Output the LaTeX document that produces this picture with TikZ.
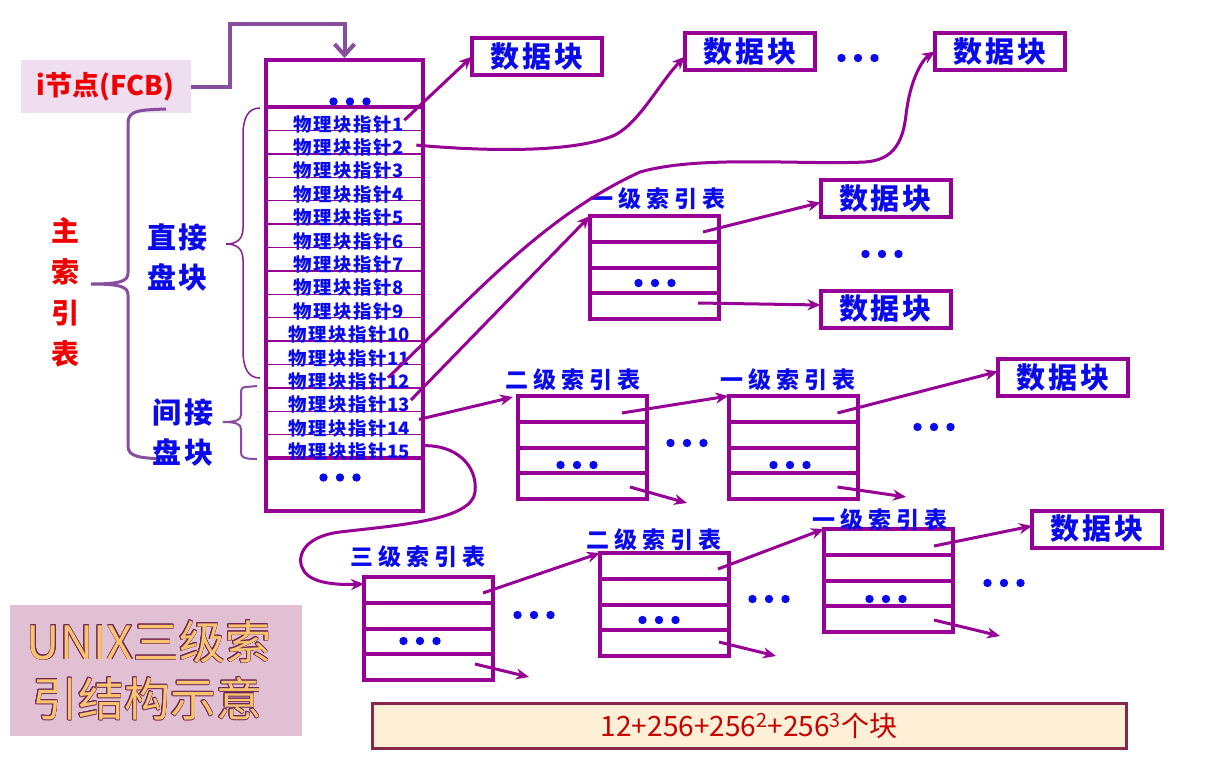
\documentclass[tikz,border=0pt]{standalone}
\usepackage{fontspec}
\usepackage{contour}
\setmainfont{Noto Sans CJK SC}
\usetikzlibrary{arrows.meta,calc}

\definecolor{boxpurple}{RGB}{150,0,150}
\definecolor{bracepurple}{RGB}{135,78,158}
\definecolor{thinpurple}{RGB}{140,30,150}
\definecolor{textblue}{RGB}{10,10,235}
\definecolor{fcbfill}{RGB}{238,222,240}
\definecolor{fcbred}{RGB}{240,0,0}
\definecolor{titlefill}{RGB}{226,192,212}
\definecolor{titlegold}{RGB}{248,196,112}
\definecolor{titleedge}{RGB}{112,40,84}
\definecolor{sumfill}{RGB}{253,240,214}
\definecolor{sumedge}{RGB}{135,40,70}
\definecolor{sumred}{RGB}{200,0,0}

\contourlength{0.7pt}

\newcommand\ptrtext[1]{物\kern1.5pt理\kern1.5pt块\kern1.5pt指\kern1.5pt针\kern0.5pt#1}
\newcommand\idxname[1]{#1\kern5pt级\kern5pt索\kern5pt引\kern5pt表}
\newcommand\blockname{数\kern3pt据\kern3pt块}

\tikzset{threedots/.pic={\foreach \i in {-1,0,1} \fill[textblue] (\i*16.5,0) circle[radius=4.2pt];}}

\begin{document}
\begin{tikzpicture}[x=1pt,y=-1pt,
  datablock/.style={draw=boxpurple,line width=4pt,minimum width=130pt,minimum height=37pt,
    inner sep=0pt,outer sep=0pt,text=textblue,font=\fontsize{29}{30}\selectfont\bfseries},
  idxtable/.style={draw=boxpurple,line width=4pt,minimum width=129pt,minimum height=103pt,
    inner sep=0pt,outer sep=0pt},
  idxrule/.style={draw=boxpurple,line width=4pt},
  idxlabel/.style={text=textblue,inner sep=0pt,font=\fontsize{23}{25}\selectfont\bfseries},
  ptrlabel/.style={text=textblue,inner sep=0pt,font=\fontsize{18.5}{20}\selectfont\bfseries},
  rowline/.style={draw=boxpurple,line width=1.4pt},
  ptrarrow/.style={draw=boxpurple,line width=3pt,-{Stealth[length=13pt,width=11pt]}},
  sidelabel/.style={text=textblue,inner sep=0pt,font=\fontsize{29}{30}\selectfont\bfseries},
]
\useasboundingbox (0,0) rectangle (1205,758);
\fill[white] (0,0) rectangle (1205,758);

% ---------- i-node and the main index table ----------
\node[fill=fcbfill,minimum width=170pt,minimum height=53pt,inner sep=0pt,outer sep=0pt,
  text=fcbred,font=\fontsize{27}{30}\selectfont\bfseries] (fcb) at (105.5,86.5) {i节点(FCB)};

\node[draw=boxpurple,line width=4pt,minimum width=157pt,minimum height=451pt,
  inner sep=0pt,outer sep=0pt] (mtab) at (344.5,285.5) {};
\draw[boxpurple,line width=4pt] ($(mtab.north west)+(0,47)$) -- ($(mtab.north east)+(0,47)$);
\draw[boxpurple,line width=4pt] ($(mtab.north west)+(0,398)$) -- ($(mtab.north east)+(0,398)$);
\foreach \k in {1,...,14}
  \draw[rowline] ($(mtab.north west)+(0,47+\k*23.4)$) -- ($(mtab.north east)+(0,47+\k*23.4)$);
\foreach \k in {1,...,15}
  \node[ptrlabel] (p\k) at ($(mtab.north)+(4.5,40.8+\k*23.4)$) {\ptrtext{\k}};
\pic at (350,101.5) {threedots};
\pic at (340,477.5) {threedots};

\draw[bracepurple,line width=4pt,-{Straight Barb[length=11pt,width=20pt]}]
  (fcb.east) -- ++(39,0) |- ([yshift=36pt]mtab.north) -- ([yshift=2pt]mtab.north);

% ---------- braces and side labels ----------
\draw[bracepurple,line width=3pt]
  (166,109) .. controls (140,110) and (128,110) .. (128,123) -- (128,273)
  .. controls (128,281) and (121,284) .. (91,284)
  .. controls (121,284) and (128,287) .. (128,295) -- (128,446)
  .. controls (128,457) and (140,458) .. (165,459);
\draw[thinpurple,line width=1.5pt]
  (260,108) .. controls (248,108) and (243,118) .. (243,135) -- (243,228)
  .. controls (243,240) and (236,244) .. (226,244)
  .. controls (236,244) and (243,248) .. (243,260) -- (243,350)
  .. controls (243,368) and (248,378) .. (260,378);
\draw[bracepurple,line width=2pt]
  (257,386) -- (246,387) .. controls (242,387) and (241,389) .. (241,393) -- (241,415)
  .. controls (241,420) and (236,422) .. (223,422)
  .. controls (236,422) and (241,424) .. (241,429) -- (241,452)
  .. controls (241,457) and (243,459) .. (257,459);

\node[text=fcbred,inner sep=0pt,align=center,font=\fontsize{28}{41}\selectfont\bfseries]
  (mainidx) at (65,292) {主\\索\\引\\表};
\node[sidelabel] (direct1) at (177.5,237) {直\kern3pt接};
\node[sidelabel] (direct2) at (177.5,277) {盘\kern3pt块};
\node[sidelabel] (indir1) at (183,413) {间\kern3pt接};
\node[sidelabel] (indir2) at (183,452) {盘\kern3pt块};

% ---------- data blocks ----------
\node[datablock] (db1) at (537,56.5) {\blockname};
\node[datablock] (db2) at (750,51.5) {\blockname};
\node[datablock] (db3) at (1000,51.5) {\blockname};
\node[datablock] (db4) at (885.5,198.5) {\blockname};
\node[datablock] (db5) at (885.5,309) {\blockname};
\node[datablock] (db6) at (1063,377.5) {\blockname};
\node[datablock] (db7) at (1097,529) {\blockname};

% ---------- index tables ----------
\node[idxtable] (t1) at (654.5,267.5) {};
\node[idxtable] (t2) at (582.5,447.5) {};
\node[idxtable] (t3) at (793,447.5) {};
\node[idxtable] (t4) at (428.5,628.5) {};
\node[idxtable] (t5) at (664.5,604.5) {};
\node[idxtable] (t6) at (888.5,580.5) {};
\foreach \t in {t1,t2,t3,t4,t5,t6}
  \foreach \f in {0.25,0.5,0.75}
    \draw[idxrule] ($(\t.north west)!\f!(\t.south west)$) -- ($(\t.north east)!\f!(\t.south east)$);

\node[idxlabel] (l1) at (658,199) {\idxname{一}};
\node[idxlabel] (l2) at (573,380) {\idxname{二}};
\node[idxlabel] (l3) at (788,380) {\idxname{一}};
\node[idxlabel] (l4) at (418,557) {\idxname{三}};
\node[idxlabel] (l5) at (654,540) {\idxname{二}};
\node[idxlabel] (l6) at (880,520) {\idxname{一}};

% ellipses inside and between the tables
\pic at (655,283) {threedots};
\pic at (858,58) {threedots};
\pic at (882,254) {threedots};
\pic at (577,465) {threedots};
\pic at (687,443) {threedots};
\pic at (790,465) {threedots};
\pic at (934,427) {threedots};
\pic at (420,641) {threedots};
\pic at (534,615) {threedots};
\pic at (659,620) {threedots};
\pic at (769,599) {threedots};
\pic at (886,599) {threedots};
\pic at (1004,583) {threedots};

% ---------- pointers from the main index table ----------
\draw[ptrarrow] ([yshift=4pt]p1.east) -- (db1.west);
\draw[ptrarrow] ([xshift=12pt,yshift=2.5pt]p2.east)
  .. controls (470,150) and (570,155) .. (615,135)
  .. controls (640,122) and (660,82) .. ([yshift=-5pt]db2.west);
\draw[ptrarrow] ([xshift=-22pt,yshift=4pt]p12.east)
  .. controls (470,300) and (540,218) .. (640,172)
  .. controls (700,155) and (800,165) .. (865,162)
  .. controls (895,160) and (903,140) .. (906,115)
  .. controls (910,80) and (922,60) .. (db3.west);
\draw[ptrarrow] ([xshift=1pt,yshift=5pt]p13.east) -- (t1.north west);
\draw[ptrarrow] ([xshift=9pt,yshift=9pt]p14.east) -- ([xshift=-5pt,yshift=-1pt]t2.north west);
\draw[ptrarrow] ([xshift=12pt,yshift=6pt]p15.east)
  .. controls (455,444) and (478,465) .. (475,492)
  .. controls (472,520) and (400,525) .. (340,532)
  .. controls (300,537) and (296,560) .. (304,571)
  .. controls (312,584) and (340,585) .. ([yshift=-7pt]t4.north west);

% ---------- pointers between index levels ----------
\coordinate (e2) at (687,503);
\coordinate (e3) at (906,497);
\coordinate (e4) at (529,677);
\coordinate (e5) at (776,656);
\coordinate (e6) at (1000,636);

\draw[ptrarrow] ([shift={(-16,16)}]t1.north east) -- ([yshift=-4pt]db4.west);
\draw[ptrarrow] ([shift={(-21,-16)}]t1.south east) -- ([yshift=4pt]db5.west);
\draw[ptrarrow] ([shift={(-25,17)}]t2.north east) -- (t3.north west);
\draw[ptrarrow] ([shift={(-17,-12)}]t2.south east) -- (e2);
\draw[ptrarrow] ([shift={(-20,17)}]t3.north east) -- ([yshift=6pt]db6.west);
\draw[ptrarrow] ([shift={(-20,-12)}]t3.south east) -- (e3);
\draw[ptrarrow] ([shift={(-10,16)}]t4.north east) -- (t5.north west);
\draw[ptrarrow] ([shift={(-18,-16)}]t4.south east) -- (e4);
\draw[ptrarrow] ([shift={(-11,16)}]t5.north east) -- (t6.north west);
\draw[ptrarrow] ([shift={(-10,-14)}]t5.south east) -- (e5);
\draw[ptrarrow] ([shift={(-19,17)}]t6.north east) -- ([yshift=3pt]db7.west);
\draw[ptrarrow] ([shift={(-19,-12)}]t6.south east) -- (e6);

% ---------- caption and block count ----------
\node[fill=titlefill,minimum width=292pt,minimum height=131pt,inner sep=0pt] (title) at (156,670) {};
\node[inner sep=0pt,font=\fontsize{46}{50}\selectfont] (title1) at (149,642)
  {\color{titlegold}\contour{titleedge}{UNIX三级索}};
\node[inner sep=0pt,font=\fontsize{46}{50}\selectfont] (title2) at (147,699)
  {\color{titlegold}\contour{titleedge}{引结构示意}};

\node[fill=sumfill,draw=sumedge,line width=3pt,minimum width=754pt,minimum height=45pt,
  inner sep=0pt,text=sumred,font=\fontsize{28}{32}\selectfont] (total) at (749,725.5)
  {12+256+256\textsuperscript{2}+256\textsuperscript{3}个块};
\end{tikzpicture}
\end{document}
